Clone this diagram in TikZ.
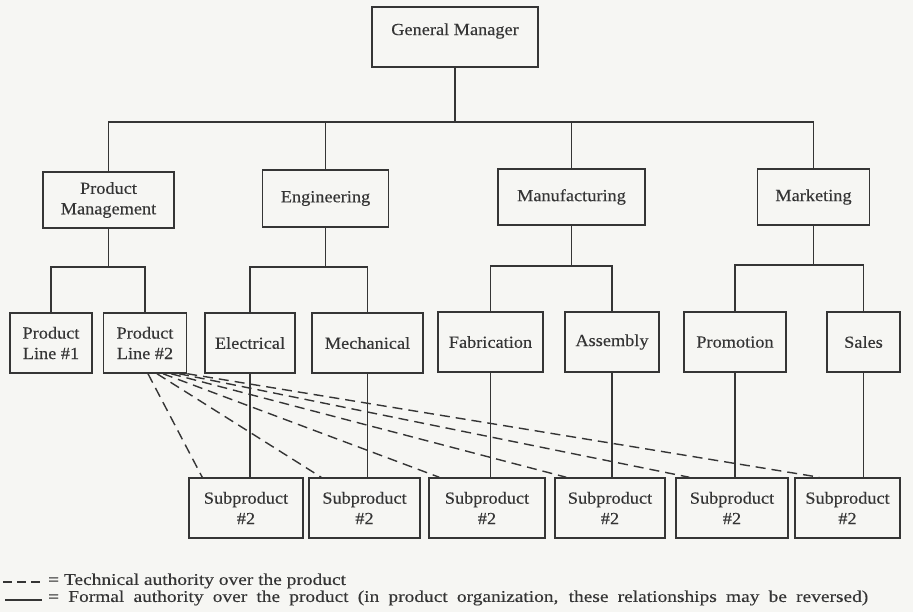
\documentclass[tikz,border=0pt]{standalone}
\usepackage{fontspec}
\setmainfont{Liberation Serif}[FakeStretch=1.08,FakeBold=0.3]
\newfontfamily\legfont{Liberation Serif}[FakeStretch=1.18,FakeBold=0.3]
\definecolor{ink}{HTML}{353535}
\definecolor{paper}{HTML}{F6F6F3}
\begin{document}
\begin{tikzpicture}[x=1bp,y=-1bp,
  box/.style={draw=ink, line width=1.5bp, inner sep=0pt, align=center, text=ink,
    font=\fontsize{17}{20.5}\selectfont},
  lbl/.style={inner sep=0pt, text=ink, font=\fontsize{17}{20.5}\selectfont},
  leg/.style={inner sep=0pt, text=ink, font=\legfont\fontsize{16.5}{18}\selectfont},
  link/.style={draw=ink, line width=1.4bp},
  tech/.style={draw=ink, line width=1.4bp, dash pattern=on 10bp off 6bp}]
\fill[paper] (0,0) rectangle (913,612);
\useasboundingbox (0,0) rectangle (913,612);

% level 1
\node[box, minimum width=166bp, minimum height=60bp] (gm) at (455,37) {};
\node[lbl] (gmt) at (gm.center) [yshift=6bp] {General Manager};

% level 2
\node[box, minimum width=131bp, minimum height=56bp] (pm) at (108.5,200) {Product\\Management};
\node[box, minimum width=126bp, minimum height=57bp] (eng) at (325.5,198.5) {Engineering};
\node[box, minimum width=147bp, minimum height=56bp] (mfg) at (571.5,197) {Manufacturing};
\node[box, minimum width=112bp, minimum height=56bp] (mkt) at (813.5,197) {Marketing};

% level 3
\node[box, minimum width=82bp, minimum height=60bp] (pl1) at (51,343) {Product\\Line \#1};
\node[box, minimum width=83bp, minimum height=60bp] (pl2) at (145,343) {Product\\Line \#2};
\node[box, minimum width=90bp, minimum height=60bp] (elec) at (250,343) {Electrical};
\node[box, minimum width=111bp, minimum height=60bp] (mech) at (367.5,343) {Mechanical};
\node[box, minimum width=105bp, minimum height=60bp] (fab) at (490.5,342) {Fabrication};
\node[box, minimum width=94bp, minimum height=60bp] (asm) at (612,342) {Assembly};
\node[box, minimum width=102bp, minimum height=60bp] (promo) at (735,342) {Promotion};
\node[box, minimum width=73bp, minimum height=60bp] (sales) at (863.5,342) {Sales};

% level 4
\node[box, minimum width=114bp, minimum height=60bp] (sp1) at (246,508) {Subproduct\\\#2};
\node[box, minimum width=111bp, minimum height=60bp] (sp2) at (364.5,508) {Subproduct\\\#2};
\node[box, minimum width=116bp, minimum height=60bp] (sp3) at (487,508) {Subproduct\\\#2};
\node[box, minimum width=110bp, minimum height=60bp] (sp4) at (610,508) {Subproduct\\\#2};
\node[box, minimum width=112bp, minimum height=60bp] (sp5) at (732,508) {Subproduct\\\#2};
\node[box, minimum width=105bp, minimum height=60bp] (sp6) at (847.5,508) {Subproduct\\\#2};

% main bus
\coordinate (busy) at (0,122);
\draw[link] (gm.south) -- (gm.south |- busy);
\draw[link] (pm.north) |- (mkt.north |- busy) -- (mkt.north);
\draw[link] (eng.north) -- (eng.north |- busy);
\draw[link] (mfg.north) -- (mfg.north |- busy);

% sub buses
\coordinate (sby) at (0,267);
\draw[link] (pm.south) -- (pm.south |- sby);
\draw[link] (pl1.north) |- (pl2.north |- sby) -- (pl2.north);
\draw[link] (eng.south) -- (eng.south |- sby);
\draw[link] (elec.north) |- (mech.north |- sby) -- (mech.north);
\coordinate (sbz) at (0,266);
\draw[link] (mfg.south) -- (mfg.south |- sbz);
\draw[link] (fab.north) |- (asm.north |- sbz) -- (asm.north);
\coordinate (sbw) at (0,265);
\draw[link] (mkt.south) -- (mkt.south |- sbw);
\draw[link] (promo.north) |- (sales.north |- sbw) -- (sales.north);

% formal authority verticals
\draw[link] (elec.south) -- (elec.south |- sp1.north);
\draw[link] (mech.south) -- (mech.south |- sp2.north);
\draw[link] (fab.south) -- (fab.south |- sp3.north);
\draw[link] (asm.south) -- (asm.south |- sp4.north);
\draw[link] (promo.south) -- (promo.south |- sp5.north);
\draw[link] (sales.south) -- (sales.south |- sp6.north);

% technical authority (dashed)
\draw[tech] ([xshift=3bp]pl2.south) -- ([xshift=14bp]sp1.north west);
\draw[tech] ([xshift=12bp]pl2.south) -- ([xshift=13bp]sp2.north west);
\draw[tech] ([xshift=18bp]pl2.south) -- ([xshift=11bp]sp3.north west);
\draw[tech] ([xshift=26bp]pl2.south) -- ([xshift=12bp]sp4.north west);
\draw[tech] ([xshift=34bp]pl2.south) -- ([xshift=14bp]sp5.north west);
\draw[tech] (pl2.south east) -- ([xshift=25bp]sp6.north west);

% legend
\node[leg, anchor=west] (leg1) at (48,581) {= Technical authority over the product};
\node[leg, anchor=west] (leg2) at (48,598) {\makebox[820bp][s]{= Formal authority over the product (in product organization, these relationships may be reversed)}};
\draw[tech, dash pattern=on 9bp off 5bp] (3,582) -- (42,582);
\draw[link] (5,600) -- (42,600);
\end{tikzpicture}
\end{document}
